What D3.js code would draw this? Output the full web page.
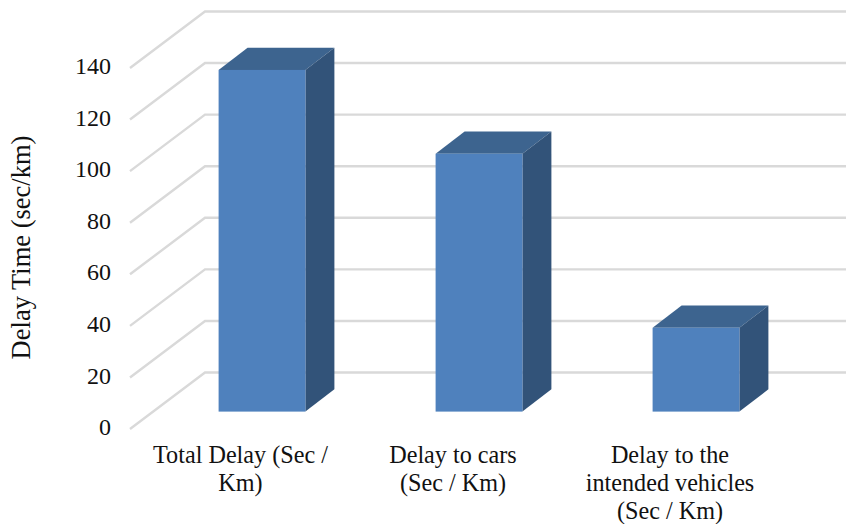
<!DOCTYPE html>
<html>
<head>
<meta charset="utf-8">
<script src="https://cdn.jsdelivr.net/npm/d3@7/dist/d3.min.js"></script>
<style>
  html, body { margin: 0; padding: 0; background: #fff; }
  svg { display: block; }
  text { font-family: "Liberation Serif", serif; fill: #111; }
</style>
</head>
<body>
<svg id="chart" width="846" height="524"></svg>
<script>
const categories = ["Total Delay", "Delay to cars", "Delay to vehicles"];
const categoryLines = [
  ["Total Delay (Sec /", "Km)"],
  ["Delay to cars", "(Sec / Km)"],
  ["Delay to the", "intended vehicles", "(Sec / Km)"]
];
const delays = [132.5, 100, 32.5];
const tickValues = [0, 20, 40, 60, 80, 100, 120, 140];
const axisTitle = "Delay Time (sec/km)";

const svg = d3.select("#chart");

// Value scale on the front edge of the floor; the back wall is shifted by wallShift.
const y = d3.scaleLinear().domain([0, 140]).range([429, 68]);
const wallShift = { x: 75, y: -56.5 };
const frontX = 130, rightX = 846;

// Bars stand part-way into the depth of the floor.
const barShift = y(0) - 411.6;
const barDepth = { x: 29, y: -22.3 };
const x = d3.scaleBand().domain(categories).range([153.5, 804.5]).paddingInner(0.6).paddingOuter(0.3);

// Floor and wall gridlines
svg.append("g").selectAll("polyline").data(tickValues).join("polyline")
  .attr("points", d => [
    [frontX, y(d)],
    [frontX + wallShift.x, y(d) + wallShift.y],
    [rightX, y(d) + wallShift.y]
  ].join(" "))
  .attr("fill", "none")
  .attr("stroke", "#d9d9d9")
  .attr("stroke-width", 2.4);

// Three visible faces of each bar
const bars = svg.append("g").selectAll("g").data(categories).join("g");
const corners = (c, i) => {
  const l = x(c), r = l + x.bandwidth();
  const top = y(delays[i]) - barShift, base = y(0) - barShift;
  return { l, r, top, base };
};
bars.append("polygon")
  .attr("points", (c, i) => {
    const p = corners(c, i);
    return [[p.l, p.top], [p.l + barDepth.x, p.top + barDepth.y],
            [p.r + barDepth.x, p.top + barDepth.y], [p.r, p.top]].join(" ");
  })
  .attr("fill", "#3d648f");
bars.append("polygon")
  .attr("points", (c, i) => {
    const p = corners(c, i);
    return [[p.r, p.top], [p.r + barDepth.x, p.top + barDepth.y],
            [p.r + barDepth.x, p.base + barDepth.y], [p.r, p.base]].join(" ");
  })
  .attr("fill", "#325379");
bars.append("rect")
  .attr("x", c => x(c))
  .attr("y", (c, i) => corners(c, i).top)
  .attr("width", x.bandwidth())
  .attr("height", (c, i) => corners(c, i).base - corners(c, i).top)
  .attr("fill", "#4f81bd");

// Value axis labels
const axis = d3.axisLeft(y).tickValues(tickValues).tickSize(0).tickPadding(0);
svg.append("g")
  .attr("transform", "translate(111,-2)")
  .call(axis)
  .call(g => g.select(".domain").remove())
  .selectAll("text")
  .style("font-family", '"Liberation Serif", serif')
  .style("font-size", "24px")
  .attr("fill", "#111");

// Axis title
svg.append("text")
  .attr("transform", "translate(30,247.5) rotate(-90)")
  .attr("text-anchor", "middle")
  .style("font-size", "26.5px")
  .text(axisTitle);

// Category labels, wrapped as in the source workbook
const labelOffsets = [-21.5, -26, -26];
svg.append("g").selectAll("text").data(categories).join("text")
  .attr("text-anchor", "middle")
  .style("font-size", "24.2px")
  .each(function (c, i) {
    const cx = x(c) + x.bandwidth() / 2 + labelOffsets[i];
    d3.select(this).selectAll("tspan").data(categoryLines[i]).join("tspan")
      .attr("x", cx)
      .attr("y", (d, k) => 463 + k * 28)
      .text(d => d);
  });
</script>
</body>
</html>
